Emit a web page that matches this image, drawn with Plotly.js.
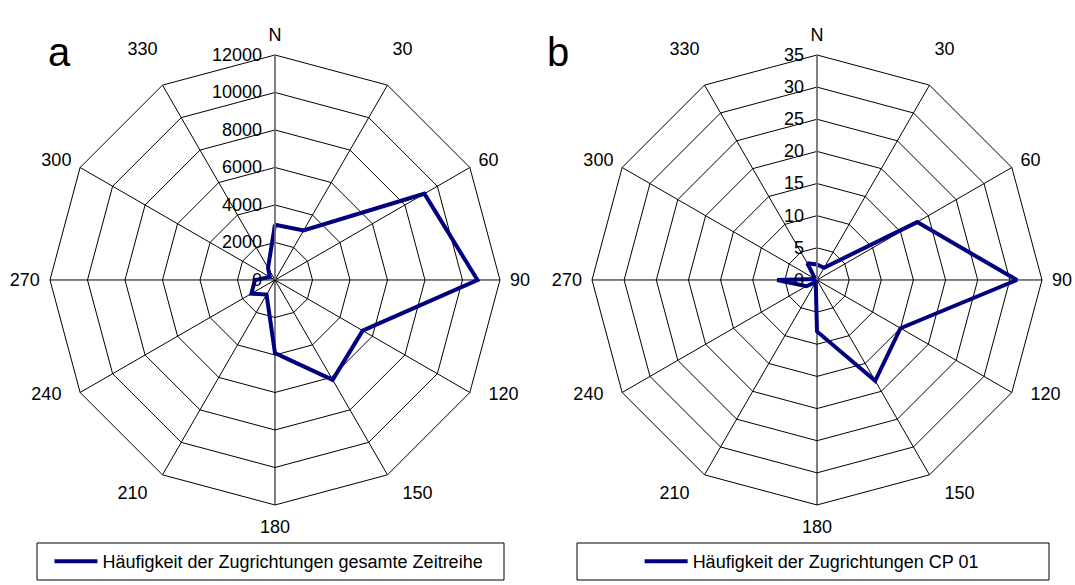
<!DOCTYPE html>
<html>
<head>
<meta charset="utf-8">
<script src="https://cdn.plot.ly/plotly-3.0.1.min.js"></script>
<style>html,body{margin:0;padding:0;background:#fff;}#chart{width:1075px;height:585px;}</style>
</head>
<body>
<div id="chart"></div>
<script>
// Directions (clockwise from north, 30° steps) used as category labels
var directionLabels = ['N', '30', '60', '90', '120', '150', '180', '210', '240', '270', '300', '330'];
// a: whole time series
var countsAll = [2950, 3050, 9200, 10800, 5400, 6150, 3900, 900, 1450, 1070, 320, 740];
// b: CP 01
var countsCP01 = [2.4, 2.2, 18.0, 31.1, 15.0, 18.1, 8.0, 0.4, 1.9, 6.2, 0.3, 3.0];
var seriesNames = ['Häufigkeit der Zugrichtungen gesamte Zeitreihe', 'Häufigkeit der Zugrichtungen CP 01'];
var radialTicksA = [0, 2000, 4000, 6000, 8000, 10000, 12000];
var radialTicksB = [0, 5, 10, 15, 20, 25, 30, 35];

function closed(arr) { return arr.concat([arr[0]]); }

var FONT = 'Liberation Sans, Arial, sans-serif';
var NAVY = '#000080';
var NB = '\u00a0\u00a0';

// label placement tweaks so the direction labels sit where the original puts them
var angularTickText = directionLabels.map(function (d) {
  if (d === '30' || d === '330') return d + '<br> ';
  if (d === '120' || d === '150') return NB + d + '<br> <br> ';
  if (d === '240' || d === '210') return d + NB + '<br> <br> ';
  return d;
});

var traces = [
  {type: 'scatterpolar', mode: 'lines', r: closed(countsAll), theta: closed(directionLabels),
   name: seriesNames[0], subplot: 'polar', legend: 'legend',
   line: {color: NAVY, width: 4}, hoverinfo: 'skip'},
  {type: 'scatterpolar', mode: 'lines', r: closed(countsCP01), theta: closed(directionLabels),
   name: seriesNames[1], subplot: 'polar2', legend: 'legend2',
   line: {color: NAVY, width: 4}, hoverinfo: 'skip'}
];

function polarLayout(domainX, ticks) {
  return {
    domain: {x: domainX, y: [0.1368, 0.906]},
    gridshape: 'linear',
    bgcolor: '#fff',
    angularaxis: {
      type: 'category', categoryorder: 'array', categoryarray: directionLabels,
      tickmode: 'array', tickvals: directionLabels, ticktext: angularTickText,
      direction: 'clockwise', rotation: 90,
      showline: true, linecolor: '#000', linewidth: 1,
      showgrid: true, gridcolor: '#000', gridwidth: 1,
      ticks: 'outside', ticklen: 6, tickcolor: 'rgba(0,0,0,0)',
      tickfont: {family: FONT, size: 18, color: '#000'}
    },
    radialaxis: {
      range: [0, ticks[ticks.length - 1]],
      tickmode: 'array', tickvals: ticks, ticktext: ticks.map(String),
      angle: 90, tickangle: 90, side: 'counterclockwise',
      showline: true, linecolor: '#808080', linewidth: 1.5,
      showgrid: true, gridcolor: '#000', gridwidth: 1,
      ticks: 'outside', ticklen: 6, tickcolor: 'rgba(0,0,0,0)',
      tickfont: {family: FONT, size: 18, color: '#000'}
    }
  };
}

var layout = {
  width: 1075, height: 585,
  margin: {l: 0, r: 0, t: 0, b: 0},
  paper_bgcolor: '#fff',
  font: {family: FONT, size: 18, color: '#000'},
  showlegend: true,
  polar: polarLayout([0.0465, 0.4651], radialTicksA),
  polar2: polarLayout([0.5502, 0.9698], radialTicksB),
  legend: {x: 0.046, y: 0.04, xanchor: 'left', yanchor: 'middle', bgcolor: 'rgba(0,0,0,0)',
           font: {family: FONT, size: 18, color: '#000'}, itemwidth: 43},
  legend2: {x: 0.595, y: 0.04, xanchor: 'left', yanchor: 'middle', bgcolor: 'rgba(0,0,0,0)',
            font: {family: FONT, size: 18, color: '#000'}, itemwidth: 43},
  shapes: [
    {type: 'rect', xref: 'paper', yref: 'paper', x0: 37/1075, x1: 504/1075, y0: 1 - 580/585, y1: 1 - 543/585,
     line: {color: '#000', width: 1}, fillcolor: 'rgba(0,0,0,0)'},
    {type: 'rect', xref: 'paper', yref: 'paper', x0: 577/1075, x1: 1049/1075, y0: 1 - 580/585, y1: 1 - 543/585,
     line: {color: '#000', width: 1}, fillcolor: 'rgba(0,0,0,0)'}
  ],
  annotations: [
    {text: 'a', xref: 'paper', yref: 'paper', x: 59/1075, y: 1 - 52/585, xanchor: 'center', yanchor: 'middle',
     showarrow: false, font: {family: FONT, size: 40, color: '#000'}},
    {text: 'b', xref: 'paper', yref: 'paper', x: 558/1075, y: 1 - 52/585, xanchor: 'center', yanchor: 'middle',
     showarrow: false, font: {family: FONT, size: 40, color: '#000'}}
  ]
};

Plotly.newPlot('chart', traces, layout, {staticPlot: true, displayModeBar: false});
</script>
</body>
</html>
